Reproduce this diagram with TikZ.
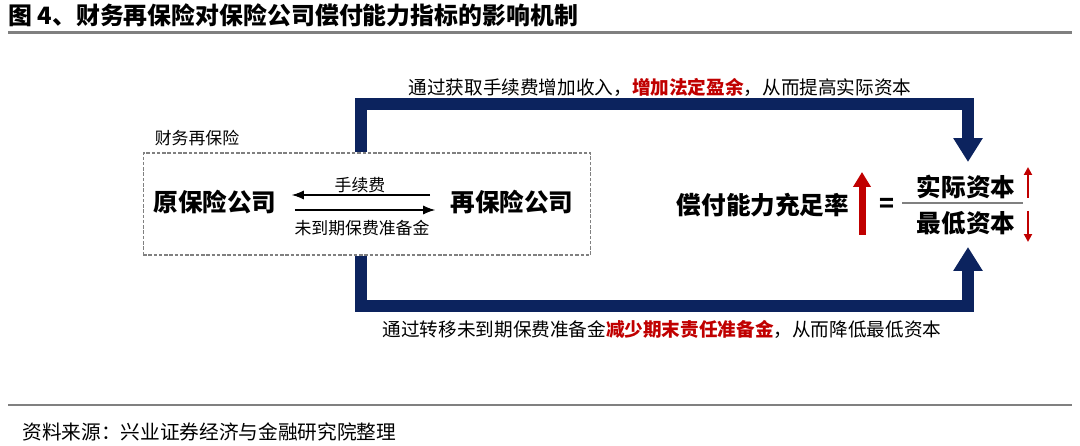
\documentclass[tikz,border=0pt]{standalone}
\usepackage{fontspec}
\setmainfont{Noto Sans CJK SC}
\usepackage{tikz}
\usetikzlibrary{arrows.meta,positioning,calc}
\definecolor{navy}{RGB}{12,35,94}
\definecolor{darkred}{RGB}{192,0,0}
\definecolor{rulegray}{RGB}{128,128,128}

\begin{document}
\begin{tikzpicture}[x=0.02cm,y=-0.02cm,
  navyarrow/.style={navy, line width=0.23cm, line join=miter,
    -{Triangle[length=0.48cm,width=0.56cm]}},
  thinarrow/.style={line width=0.6pt, -{Latex[length=2.4mm,width=1.8mm]}},
  redarrow/.style={darkred, line width=#1},
  bigtext/.style={inner sep=0pt, font=\fontsize{14}{16}\selectfont\bfseries},
  smalltext/.style={inner sep=0pt, font=\fontsize{9.6}{11}\selectfont}]
  \useasboundingbox (0,0) rectangle (1080,446);

  % title and rules
  \node[anchor=west, inner sep=0pt, font=\fontsize{13.6}{16}\selectfont\bfseries] (title) at (8,15) {图 4、财务再保险对保险公司偿付能力指标的影响机制};
  \draw[rulegray, line width=0.06cm] (8,33) -- (1072,33);
  \draw[rulegray, line width=0.06cm] (8,405) -- (1072,405);
  \node[anchor=west, inner sep=0pt, font=\fontsize{11.2}{13}\selectfont] (source) at (22,432) {资料来源：兴业证券经济与金融研究院整理};

  % financial reinsurance box
  \node[draw=gray, dash pattern=on 2pt off 1pt, line width=0.6pt, minimum width=8.96cm, minimum height=2.04cm] (reins) at (367,204) {};
  \node[smalltext, anchor=south west] (reinslabel) at ([xshift=0.24cm,yshift=0.12cm]reins.north west) {财务再保险};
  \node[bigtext] (orig) at (215,202) {原保险公司};
  \node[bigtext] (rein) at (512,202) {再保险公司};
  \draw[thinarrow, shorten <=0.4cm, shorten >=0.3cm] ([yshift=0.14cm]rein.west) -- ([yshift=0.14cm]orig.east);
  \draw[thinarrow, shorten <=0.36cm, shorten >=0.3cm] ([yshift=-0.16cm]orig.east) -- ([yshift=-0.16cm]rein.west);
  \node[smalltext] (fee) at (360,185) {手续费};
  \node[smalltext] (reserve) at (362,228) {未到期保费准备金};

  % solvency ratio
  \node[bigtext] (ratio) at (763,205) {偿付能力充足率};
  \draw[darkred, line width=0.14cm, -{Triangle[length=0.3cm,width=0.34cm]}] (862,235) -- (862,172);
  \node[bigtext] (equal) at (887,205) {=};
  \node[bigtext] (cap) at (966,187) {实际资本};
  \node[bigtext] (mincap) at (966,223) {最低资本};
  \draw[gray, line width=0.8pt] (902,203) -- (1023,203);
  \draw[darkred, line width=0.05cm, -{Triangle[length=0.16cm,width=0.16cm]}] (1028,198) -- (1028,167);
  \draw[darkred, line width=0.05cm, -{Triangle[length=0.16cm,width=0.16cm]}] (1028,211) -- (1028,242);

  % thick connectors
  \coordinate (intop) at (968,162);
  \coordinate (inbot) at (968,247);
  \draw[navyarrow] ([xshift=-0.12cm]reins.north) |- ($(intop)+(0,-58)$) -- (intop);
  \draw[navyarrow] ([xshift=-0.12cm]reins.south) |- ($(inbot)+(0,59)$) -- (inbot);
  \node[inner sep=0pt, font=\fontsize{10.6}{12}\selectfont] (gain) at (660,87) {通过获取手续费增加收入，\textcolor{darkred}{\bfseries 增加法定盈余}，从而提高实际资本};
  \node[inner sep=0pt, font=\fontsize{10.6}{12}\selectfont] (cut) at (662,329) {通过转移未到期保费准备金\textcolor{darkred}{\bfseries 减少期末责任准备金}，从而降低最低资本};
\end{tikzpicture}
\end{document}
